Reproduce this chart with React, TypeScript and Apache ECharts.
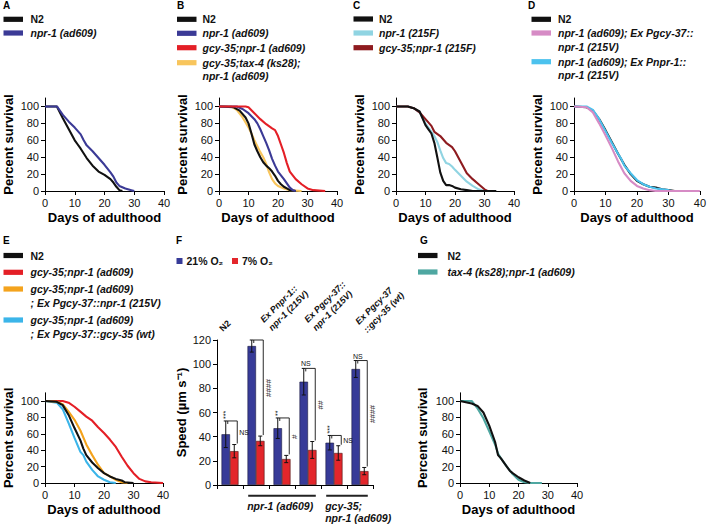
import React, { useEffect, useRef } from 'react';
import * as echarts from 'echarts';

const FONT = '"Liberation Sans", Arial, Helvetica, sans-serif';

// ---------- Survival data: [day, percent survival] ----------
const A_N2 = [[0,100],[4,100],[6,86],[8,73],[10,60],[11,55],[12,50],[14,39],[16,30],[18,23],[20,19],[22,14],[23,10],[24,5],[25,1],[26,0]];
const A_NPR1 = [[0,100],[4,100],[6,90],[8,82],[10,75],[12,67],[13,60],[14,54],[16,47],[18,39],[20,31],[22,22],[23,17],[24,10],[25,6],[27,3],[29,1],[30,0]];

const B_N2 = [[0,100],[5,99],[7,95],[9,87],[10,80],[11,68],[12,55],[13,47],[14,40],[15,34],[16,30],[17,27],[18,23],[19,18],[20,12],[21,8],[22,5],[23,3],[24,1],[26,0]];
const B_NPR1 = [[0,100],[6,100],[8,97],[10,92],[12,85],[13,80],[14,73],[15,65],[16,57],[17,48],[18,38],[19,30],[20,23],[22,14],[24,4],[25,1],[26,0]];
const B_GCY = [[0,100],[9,100],[10,99],[12,92],[14,85],[16,79],[18,74],[19,72],[20,65],[21,55],[22,45],[23,33],[24,23],[26,14],[28,8],[30,3],[32,1],[36,0]];
const B_TAX = [[0,100],[4,100],[6,96],[8,87],[10,75],[11,68],[12,60],[13,53],[14,46],[15,40],[16,32],[17,22],[18,14],[19,9],[20,6],[22,3],[24,1],[28,0]];

const C_N2 = [[0,100],[4,100],[6,98],[8,94],[9,86],[10,78],[11,73],[12,68],[13,57],[14,40],[15,22],[16,12],[17,7],[18,7],[19,6],[20,4],[22,2],[24,1],[26,0],[34,0]];
const C_NPR1 = [[0,100],[4,100],[6,98],[8,93],[10,80],[12,70],[13,65],[14,58],[15,48],[16,39],[17,33],[18,32],[19,29],[20,25],[22,18],[24,11],[26,6],[28,2],[30,0]];
const C_GCY = [[0,100],[4,100],[6,98],[8,93],[10,85],[12,77],[13,70],[15,65],[17,57],[19,52],[20,47],[22,34],[24,21],[26,14],[28,8],[30,2],[31,0]];

const D_N2 = [[0,100],[4,99],[6,95],[8,85],[10,72],[12,58],[14,44],[16,31],[18,20],[20,12],[22,8],[24,5],[26,4],[28,2],[30,1],[32,0]];
const D_PGCY = [[0,100],[4,99],[6,93],[8,80],[10,66],[12,51],[14,35],[16,21],[18,12],[20,6],[22,3],[24,1],[26,0],[40,0]];
const D_PNPR = [[0,100],[4,100],[6,96],[8,85],[10,71],[12,57],[14,44],[15,38],[16,30],[18,21],[20,13],[22,8],[24,5],[26,3],[28,2],[30,1],[31,0]];

const E_N2 = [[0,100],[4,99],[6,95],[8,83],[10,67],[12,52],[13,42],[14,34],[16,25],[18,18],[20,12],[22,8],[24,5],[26,3],[27,1],[30,0]];
const E_GCY = [[0,100],[6,100],[8,98],[10,93],[12,87],[14,81],[16,76],[18,68],[20,61],[22,53],[24,44],[26,32],[28,21],[30,12],[32,5],[34,2],[36,1],[40,0]];
const E_PNPR = [[0,100],[4,99],[6,96],[8,87],[10,77],[12,64],[14,47],[16,34],[18,22],[20,12],[22,8],[24,4],[26,1],[28,0]];
const E_PGCY = [[0,100],[4,98],[6,90],[8,73],[10,55],[12,38],[13,34],[14,26],[16,16],[18,8],[20,4],[22,1],[24,0]];

const G_N2 = [[0,100],[4,97],[6,94],[8,86],[10,70],[12,50],[13,34],[14,30],[16,20],[17,15],[18,12],[20,7],[22,3],[24,0]];
const G_TAX = [[0,100],[4,100],[6,91],[8,79],[10,63],[12,47],[13,36],[14,30],[16,20],[18,11],[20,4],[22,1],[24,0],[28,0]];

const SURV_Y_TICKS = [0, 20, 40, 60, 80, 100];

// ---------- Speed data (panel F) ----------
const SPEED_CATS = ['N2', 'npr-1; Ex Pnpr-1::npr-1 (215V)', 'npr-1', 'npr-1; Ex Pgcy-37::npr-1 (215V)', 'gcy-35;npr-1', 'gcy-35;npr-1; Ex Pgcy-37::gcy-35 (wt)'];
const SPEED_TOP_LABELS = ['N2', 'Ex Pnpr-1::\nnpr-1 (215V)', '', 'Ex Pgcy-37::\nnpr-1 (215V)', '', 'Ex Pgcy-37\n::gcy-35 (wt)'];
const SPEED_21 = [42, 115, 47, 85.5, 35, 96];
const SPEED_21_ERR = [11, 5, 8.5, 11, 6, 7];
const SPEED_7 = [28, 36.5, 21.5, 29, 26.5, 11.5];
const SPEED_7_ERR = [5.5, 4, 3, 7, 6, 3];
const SIG_ABOVE = ['***', '', '**', 'NS', '***', 'NS'];
const SIG_BRACKET = ['NS', '####', '#', '##', 'NS', '####'];
const GROUP_FROM = [1, 4];
const GROUP_TO = [3, 5];
const GROUP_LABELS = ['npr-1 (ad609)', 'gcy-35;\nnpr-1 (ad609)'];
const SPEED_LEGEND = ['21% O₂', '7% O₂'];

// layout tweaks for the rotated category labels above panel F (pixels)
const TOP_LABEL_DX = [-9, 10, 0, 2, 0, 1];
const TOP_LABEL_DY = [-10, -15, 0, -15, 0, -13];

// ---------- colours ----------
const BLACK = '#111111';
const C_NPR_BLUE = '#3b3a96';
const C_RED = '#e41f26';
const C_YELLOW = '#f8c55c';
const C_LCYAN = '#90d4e2';
const C_DRED = '#8e1b1f';
const C_PINK = '#d68bc5';
const C_CYAN = '#4cc2ee';
const C_ORANGE = '#f4a31d';
const C_LBLUE = '#3bb5e9';
const C_TEAL = '#4ea7a1';
const BAR_BLUE = '#373b98';
const BAR_RED = '#e3262b';

type Item = { name: string; data: number[][]; color: string };
type Panel = {
  letter: string;
  letterPos: [number, number];
  grid: { left: number; top: number; width: number; height: number };
  swX: number;
  textX: number;
  legendYs: number[];
  items: Item[];
  drawOrder: number[];
  yNameGap: number;
};

const SURVIVAL_PANELS: Panel[] = [
  {
    letter: 'A', letterPos: [3, 5], grid: { left: 45, top: 98, width: 119, height: 93 },
    swX: 3.5, textX: 30.5, legendYs: [19.3, 33],
    items: [
      { name: 'N2', data: A_N2, color: BLACK },
      { name: 'npr-1 (ad609)', data: A_NPR1, color: C_NPR_BLUE },
    ],
    drawOrder: [0, 1], yNameGap: 30,
  },
  {
    letter: 'B', letterPos: [177, 5], grid: { left: 219, top: 98, width: 118, height: 93 },
    swX: 177, textX: 202.5, legendYs: [19.3, 33.3, 47.7, 62.7],
    items: [
      { name: 'N2', data: B_N2, color: BLACK },
      { name: 'npr-1 (ad609)', data: B_NPR1, color: C_NPR_BLUE },
      { name: 'gcy-35;npr-1 (ad609)', data: B_GCY, color: C_RED },
      { name: 'gcy-35;tax-4 (ks28);\nnpr-1 (ad609)', data: B_TAX, color: C_YELLOW },
    ],
    drawOrder: [3, 0, 1, 2], yNameGap: 30,
  },
  {
    letter: 'C', letterPos: [353, 5], grid: { left: 396, top: 98, width: 118, height: 93 },
    swX: 353.5, textX: 379, legendYs: [19, 33, 47.7],
    items: [
      { name: 'N2', data: C_N2, color: BLACK },
      { name: 'npr-1 (215F)', data: C_NPR1, color: C_LCYAN },
      { name: 'gcy-35;npr-1 (215F)', data: C_GCY, color: C_DRED },
    ],
    drawOrder: [1, 2, 0], yNameGap: 30,
  },
  {
    letter: 'D', letterPos: [528, 5], grid: { left: 574, top: 98, width: 128, height: 93 },
    swX: 531.5, textX: 558, legendYs: [19.3, 33, 61.7],
    items: [
      { name: 'N2', data: D_N2, color: BLACK },
      { name: 'npr-1 (ad609); Ex Pgcy-37::\nnpr-1 (215V)', data: D_PGCY, color: C_PINK },
      { name: 'npr-1 (ad609); Ex Pnpr-1::\nnpr-1 (215V)', data: D_PNPR, color: C_CYAN },
    ],
    drawOrder: [0, 2, 1], yNameGap: 30,
  },
  {
    letter: 'E', letterPos: [3, 240], grid: { left: 45, top: 392.8, width: 118, height: 90.2 },
    swX: 3.5, textX: 30.5, legendYs: [255.5, 272.3, 289, 320],
    items: [
      { name: 'N2', data: E_N2, color: BLACK },
      { name: 'gcy-35;npr-1 (ad609)', data: E_GCY, color: C_RED },
      { name: 'gcy-35;npr-1 (ad609)\n; Ex Pgcy-37::npr-1 (215V)', data: E_PNPR, color: C_ORANGE },
      { name: 'gcy-35;npr-1 (ad609)\n; Ex Pgcy-37::gcy-35 (wt)', data: E_PGCY, color: C_LBLUE },
    ],
    drawOrder: [1, 3, 2, 0], yNameGap: 30,
  },
  {
    letter: 'G', letterPos: [420, 240], grid: { left: 460, top: 392.8, width: 117, height: 90.2 },
    swX: 418, textX: 447.5, legendYs: [255.5, 272],
    items: [
      { name: 'N2', data: G_N2, color: BLACK },
      { name: 'tax-4 (ks28);npr-1 (ad609)', data: G_TAX, color: C_TEAL },
    ],
    drawOrder: [1, 0], yNameGap: 31,
  },
];

const F_GRID = { left: 217, top: 340, width: 156, height: 145 };
const BAR_W = 8.5;

const axisLineStyle = { color: '#000', width: 1 };

function buildOption() {
  const grid: any[] = [];
  const xAxis: any[] = [];
  const yAxis: any[] = [];
  const series: any[] = [];
  const graphic: any[] = [];

  SURVIVAL_PANELS.forEach((p, i) => {
    grid.push({ ...p.grid, containLabel: false });
    xAxis.push({
      type: 'value', gridIndex: i, min: 0, max: 40, interval: 10,
      axisLine: { show: true, onZero: false, lineStyle: axisLineStyle },
      axisTick: { show: true, length: 4, lineStyle: axisLineStyle },
      axisLabel: { fontSize: 11, color: '#111', margin: 6, fontFamily: FONT },
      splitLine: { show: false },
      name: 'Days of adulthood', nameLocation: 'middle', nameGap: 19.5,
      nameTextStyle: { fontSize: 13, fontWeight: 'bold', color: '#000', fontFamily: FONT },
    });
    yAxis.push({
      type: 'value', gridIndex: i, min: 0, max: 110,
      axisLine: { show: true, onZero: false, lineStyle: axisLineStyle },
      axisTick: { show: true, length: 4, lineStyle: axisLineStyle, customValues: SURV_Y_TICKS },
      axisLabel: { fontSize: 11, color: '#111', margin: 6, fontFamily: FONT, customValues: SURV_Y_TICKS },
      splitLine: { show: false },
      name: 'Percent survival', nameLocation: 'middle', nameGap: p.yNameGap,
      nameTextStyle: { fontSize: 13, fontWeight: 'bold', color: '#000', fontFamily: FONT },
    });
    p.drawOrder.forEach((k) => {
      const it = p.items[k];
      series.push({
        type: 'line', name: it.name, xAxisIndex: i, yAxisIndex: i,
        data: it.data, showSymbol: false, symbol: 'none',
        lineStyle: { color: it.color, width: 2.1 }, itemStyle: { color: it.color },
        z: 3,
      });
    });
    graphic.push({
      type: 'text', x: p.letterPos[0], y: p.letterPos[1],
      style: { text: p.letter, font: `bold 10px ${FONT}`, fill: '#000', align: 'left', verticalAlign: 'middle', textAlign: 'left', textVerticalAlign: 'middle' },
    });
    p.items.forEach((it, k) => {
      const yc = p.legendYs[k];
      graphic.push({
        type: 'rect', shape: { x: p.swX, y: yc - 2.6, width: 19.5, height: 5.2 },
        style: { fill: it.color },
      });
      const italic = it.name !== 'N2';
      graphic.push({
        type: 'text', x: p.textX, y: yc - 6.75,
        style: {
          text: it.name, font: `${italic ? 'italic ' : ''}bold 10.5px ${FONT}`, fill: '#111',
          lineHeight: 13.5, align: 'left', verticalAlign: 'top', textAlign: 'left', textVerticalAlign: 'top',
        },
      });
    });
  });

  // ---------- Panel F ----------
  const fi = SURVIVAL_PANELS.length;
  grid.push({ ...F_GRID, containLabel: false });
  const fx = xAxis.length;
  xAxis.push({
    type: 'category', gridIndex: fi, data: SPEED_CATS,
    axisLine: { show: true, lineStyle: axisLineStyle },
    axisTick: { show: true, length: 4, interval: 0, lineStyle: axisLineStyle },
    axisLabel: { show: false },
    splitLine: { show: false },
  });
  const fy = yAxis.length;
  yAxis.push({
    type: 'value', gridIndex: fi, min: 0, max: 120, interval: 20,
    axisLine: { show: true, lineStyle: axisLineStyle },
    axisTick: { show: true, length: 4, lineStyle: axisLineStyle },
    axisLabel: { fontSize: 11, color: '#111', margin: 6, fontFamily: FONT },
    splitLine: { show: false },
    name: 'Speed (µm s⁻¹)', nameLocation: 'middle', nameGap: 29,
    nameTextStyle: { fontSize: 13, fontWeight: 'bold', color: '#000', fontFamily: FONT },
  });
  series.push({
    type: 'bar', name: SPEED_LEGEND[0], xAxisIndex: fx, yAxisIndex: fy, data: SPEED_21,
    barWidth: BAR_W, barGap: '0%', itemStyle: { color: BAR_BLUE, borderColor: '#1b1b40', borderWidth: 0.6 }, z: 2,
  });
  series.push({
    type: 'bar', name: SPEED_LEGEND[1], xAxisIndex: fx, yAxisIndex: fy, data: SPEED_7,
    barWidth: BAR_W, barGap: '0%', itemStyle: { color: BAR_RED, borderColor: '#4a1010', borderWidth: 0.6 }, z: 2,
  });

  const lineEl = (x1: number, y1: number, x2: number, y2: number, w = 1) => ({
    type: 'line', shape: { x1, y1, x2, y2 }, style: { stroke: '#111', lineWidth: w },
  });
  const textEl = (text: string, x: number, y: number, align: string, valign: string, rotation = 0, font = `7px ${FONT}`, lineHeight?: number) => ({
    type: 'text', x, y, rotation,
    style: { text, font, fill: '#111', align, verticalAlign: valign, textAlign: align, textVerticalAlign: valign, lineHeight },
  });

  // error bars and significance marks
  series.push({
    type: 'custom', xAxisIndex: fx, yAxisIndex: fy, z: 5, clip: false,
    data: SPEED_CATS.map((_, i) => [i, SPEED_21[i] + SPEED_21_ERR[i]]),
    encode: { x: 0, y: 1 },
    renderItem: (params: any, api: any) => {
      const i = api.value(0) as number;
      const base = api.coord([i, 0]);
      const bx = base[0] - BAR_W / 2;
      const rx = base[0] + BAR_W / 2;
      const Y = (v: number) => api.coord([i, v])[1];
      const children: any[] = [];
      const err = (x: number, v: number, e: number) => {
        const t = Y(v + e);
        const b = Y(v - e);
        children.push(lineEl(x, t, x, b), lineEl(x - 2, t, x + 2, t), lineEl(x - 2, b, x + 2, b));
      };
      err(bx, SPEED_21[i], SPEED_21_ERR[i]);
      err(rx, SPEED_7[i], SPEED_7_ERR[i]);
      const bTop = Y(SPEED_21[i] + SPEED_21_ERR[i]);
      const rTop = Y(SPEED_7[i] + SPEED_7_ERR[i]);
      const vx = rx + 3;
      children.push({
        type: 'polyline',
        shape: { points: [[bx + 2, bTop + 3], [bx + 2, bTop], [vx, bTop], [vx, rTop - 1]] },
        style: { stroke: '#111', lineWidth: 0.9, fill: null },
      });
      const bl = SIG_BRACKET[i];
      const midY = (bTop + rTop) / 2;
      if (bl.startsWith('#')) {
        children.push(textEl(bl, vx + 5, midY, 'center', 'middle', Math.PI / 2, `8px ${FONT}`));
      } else {
        children.push(textEl(bl, vx + 2, midY, 'left', 'middle', 0));
      }
      const ab = SIG_ABOVE[i];
      if (ab.startsWith('*')) {
        children.push(textEl(ab, bx, bTop - 2, 'left', 'middle', Math.PI / 2));
      } else if (ab) {
        children.push(textEl(ab, bx + 2, bTop - 1, 'center', 'bottom', 0));
      }
      return { type: 'group', children };
    },
  });

  // rotated category labels above the bars
  series.push({
    type: 'custom', xAxisIndex: fx, yAxisIndex: fy, z: 5, clip: false,
    data: SPEED_TOP_LABELS.map((_, i) => [i, 120]),
    encode: { x: 0, y: 1 },
    renderItem: (params: any, api: any) => {
      const i = api.value(0) as number;
      const label = SPEED_TOP_LABELS[i];
      if (!label) return { type: 'group', children: [] };
      const p = api.coord([i, 120]);
      const italic = label !== 'N2';
      return textEl(label, p[0] + TOP_LABEL_DX[i], p[1] + TOP_LABEL_DY[i], 'left', 'middle', Math.PI / 4,
        `${italic ? 'italic ' : ''}bold 9px ${FONT}`, 11.5);
    },
  });

  // group underlines below the axis
  series.push({
    type: 'custom', xAxisIndex: fx, yAxisIndex: fy, z: 5, clip: false,
    data: GROUP_FROM.map((f, k) => [f, GROUP_TO[k], 0]),
    encode: { x: [0, 1], y: 2 },
    renderItem: (params: any, api: any) => {
      const k = params.dataIndex;
      const a = api.coord([api.value(0), 0]);
      const b = api.coord([api.value(1), 0]);
      const band = api.size([1, 0])[0];
      const x1 = a[0] - 0.3 * band;
      const x2 = b[0] + 0.3 * band;
      const y = a[1] + 10.7;
      return {
        type: 'group',
        children: [
          { type: 'rect', shape: { x: x1, y: y - 1, width: x2 - x1, height: 2 }, style: { fill: '#222' } },
          textEl(GROUP_LABELS[k], x1 - 1, y + 4, 'left', 'top', 0, `italic bold 10.5px ${FONT}`, 12),
        ],
      };
    },
  });

  graphic.push({
    type: 'text', x: 176, y: 240,
    style: { text: 'F', font: `bold 10px ${FONT}`, fill: '#000', align: 'left', verticalAlign: 'middle', textAlign: 'left', textVerticalAlign: 'middle' },
  });
  const legX = [176.5, 232];
  [BAR_BLUE, BAR_RED].forEach((c, k) => {
    graphic.push({ type: 'rect', shape: { x: legX[k], y: 258, width: 6, height: 6 }, style: { fill: c } });
    graphic.push({
      type: 'text', x: legX[k] + 10, y: 261,
      style: { text: SPEED_LEGEND[k], font: `bold 10.5px ${FONT}`, fill: '#111', align: 'left', verticalAlign: 'middle', textAlign: 'left', textVerticalAlign: 'middle' },
    });
  });

  return {
    animation: false,
    backgroundColor: '#ffffff',
    textStyle: { fontFamily: FONT },
    grid, xAxis, yAxis, series,
    graphic: { elements: graphic },
  };
}

export default function App() {
  const ref = useRef<HTMLDivElement>(null);
  useEffect(() => {
    document.body.style.margin = '0';
    const chart = echarts.init(ref.current!, null, { renderer: 'svg' });
    chart.setOption(buildOption() as any);
    return () => chart.dispose();
  }, []);
  return <div ref={ref} style={{ width: 709, height: 524, background: '#fff' }} />;
}
